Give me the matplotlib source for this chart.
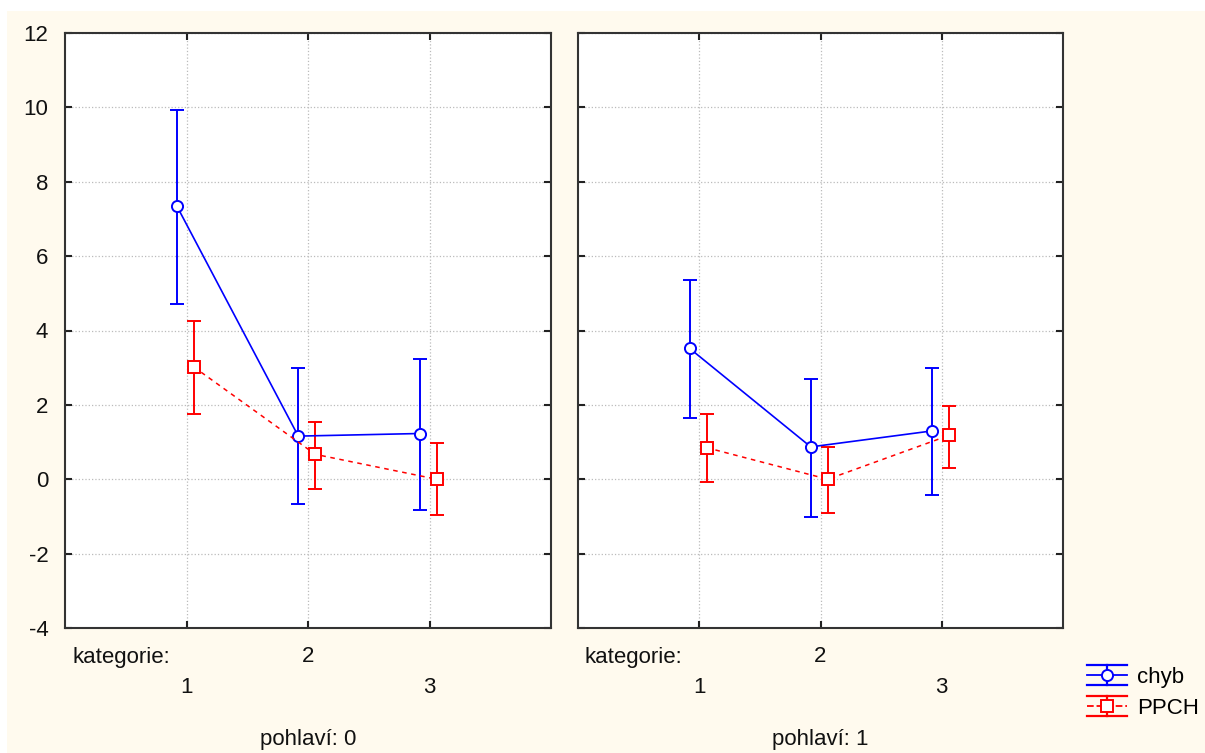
import numpy as np
import matplotlib.pyplot as plt
from matplotlib.patches import Rectangle
from matplotlib.lines import Line2D
from matplotlib.legend_handler import HandlerBase

plt.rcParams['font.family'] = ['Liberation Sans', 'DejaVu Sans']
plt.rcParams['font.size'] = 16
plt.rcParams['axes.unicode_minus'] = False

# categories and groups
kategorie = [1, 2, 3]
pohlavi = [0, 1]
tick_labels = ['\n1', '2', '\n3']

# chyb: mean, lower, upper for each pohlavi
chyb_mean = [[7.35, 1.16, 1.23], [3.52, 0.87, 1.30]]
chyb_low = [[4.72, -0.66, -0.84], [1.65, -1.01, -0.43]]
chyb_high = [[9.92, 3.00, 3.23], [5.35, 2.69, 3.00]]

# PPCH: mean, lower, upper
ppch_mean = [[3.02, 0.67, 0.00], [0.85, 0.00, 1.18]]
ppch_low = [[1.75, -0.25, -0.97], [-0.07, -0.90, 0.30]]
ppch_high = [[4.26, 1.55, 0.97], [1.75, 0.88, 1.97]]


# legend symbol like the original: caps as wide as the handle
class HandlerEB(HandlerBase):
    def create_artists(self, legend, orig_handle, xdescent, ydescent, width, height, fontsize, trans):
        line = orig_handle[0]
        c = line.get_color()
        cy = height / 2 - ydescent
        hh = height * 0.66
        x0, x1 = -xdescent, -xdescent + width
        xm = (x0 + x1) / 2
        arts = [Line2D([x0, x1], [cy + hh, cy + hh], color=c, lw=1.6),
                Line2D([x0, x1], [cy - hh, cy - hh], color=c, lw=1.6),
                Line2D([xm, xm], [cy - hh, cy + hh], color=c, lw=1.6),
                Line2D([x0, x1], [cy, cy], color=c, lw=1.3, ls=line.get_linestyle()),
                Line2D([xm], [cy], marker=line.get_marker(), ms=line.get_markersize(),
                       mfc='white', mec=c, mew=1.4, ls='none')]
        for a in arts:
            a.set_transform(trans)
        return arts


W, H = 1205, 753
fig = plt.figure(figsize=(W / 100, H / 100), dpi=100, facecolor='white')
# cream background panel
fig.patches.append(Rectangle((7 / W, 0), 1 - 7 / W, (H - 11) / H,
                             transform=fig.transFigure, facecolor='#fffaee',
                             edgecolor='none', zorder=-10))

positions = [[65 / W, (H - 628) / H, 486 / W, 595 / H],
             [578 / W, (H - 628) / H, 485 / W, 595 / H]]

x = np.array(kategorie, dtype=float)
handles = []
for i, g in enumerate(pohlavi):
    ax = fig.add_axes(positions[i])
    ax.set_facecolor('white')
    m = np.array(chyb_mean[i])
    e1 = ax.errorbar(x - 0.08, m, yerr=[m - np.array(chyb_low[i]), np.array(chyb_high[i]) - m],
                     color='#0000ff', ecolor='#0000ff', lw=1.2, elinewidth=1.4, capsize=5,
                     capthick=1.4, marker='o', ms=8, mfc='white', mec='#0000ff', mew=1.4,
                     label='chyb', zorder=3)
    p = np.array(ppch_mean[i])
    e2 = ax.errorbar(x + 0.06, p, yerr=[p - np.array(ppch_low[i]), np.array(ppch_high[i]) - p],
                     color='#ff0000', ecolor='#ff0000', lw=1.1, ls=(0, (3, 3)), elinewidth=1.4,
                     capsize=5, capthick=1.4, marker='s', ms=9, mfc='white', mec='#ff0000',
                     mew=1.4, label='PPCH', zorder=3)
    e2[-1][0].set_linestyle('-')
    if i == 0:
        handles = [e1, e2]

    ax.set_xlim(0, 4)
    ax.set_ylim(-4, 12)
    ax.set_yticks(np.arange(-4, 13, 2))
    ax.set_xticks(kategorie)
    ax.set_xticklabels(tick_labels, linespacing=1.6)
    ax.grid(True, color='#bbbbbb', ls=':', lw=0.9)
    ax.tick_params(direction='in', length=5, width=1.5, top=True, right=True,
                   color='#222222', labelcolor='#111111')
    ax.tick_params(axis='x', pad=13)
    ax.tick_params(axis='y', pad=12)
    if i == 1:
        ax.tick_params(labelleft=False)
    for s in ax.spines.values():
        s.set_linewidth(1.5)
        s.set_color('#333333')
    ax.text(7 / 486, -0.049, 'kategorie:', transform=ax.transAxes, ha='left', va='center',
            color='#111111')
    ax.text(0.5, -0.188, 'pohlaví: %d' % g, transform=ax.transAxes, ha='center', va='center',
            color='#111111')

fig.legend(handles, ['chyb', 'PPCH'], loc='lower left', bbox_to_anchor=(1087 / W, 34 / H),
           frameon=False, handlelength=1.8, handletextpad=0.45, labelspacing=0.45,
           borderpad=0, borderaxespad=0, fontsize=16,
           handler_map={type(handles[0]): HandlerEB()})

fig.savefig('out.png', dpi=100, facecolor='white')
